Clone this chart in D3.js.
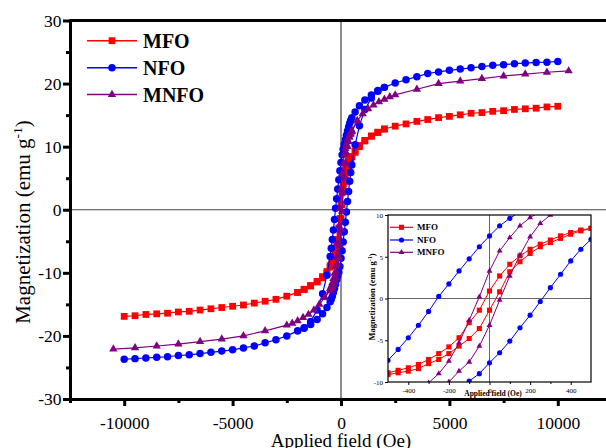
<!DOCTYPE html>
<html>
<head>
<meta charset="utf-8">
<script src="https://cdnjs.cloudflare.com/ajax/libs/d3/7.8.5/d3.min.js"></script>
<style>
  body { margin: 0; background: #fff; }
  svg { display: block; }
</style>
</head>
<body>
<div id="chart"></div>
<script>
// Chart size and fonts
const FRAME_WIDTH = 606;
const FRAME_HEIGHT = 448;
const FONT = "'Liberation Serif', 'Times New Roman', serif";

// ---- data: applied field (Oe) and magnetization (emu/g) ----
// descending branch (from +H down to -H) for MFO and NFO
const fieldDown = [10000, 9500, 9000, 8500, 8000, 7500, 7000, 6500, 6000, 5500, 5000, 4500, 4000, 3500, 3000, 2500,
  2000, 1700, 1400, 1100, 850, 650,
  500, 450, 400, 350, 300, 250, 200, 150, 100, 50, 0, -50, -100, -150, -200, -250, -300, -350, -400, -450, -500,
  -650, -850, -1100, -1400, -1700, -2000,
  -2500, -3000, -3500, -4000, -4500, -5000, -5500, -6000, -6500, -7000, -7500, -8000, -8500, -9000, -9500, -10000];
// ascending branch (only where the loop is open)
const fieldUp = [-2000, -1700, -1400, -1100, -850, -650,
  -500, -450, -400, -350, -300, -250, -200, -150, -100, -50, 0, 50, 100, 150, 200, 250, 300, 350, 400, 450, 500,
  650, 850, 1100, 1400, 1700, 2000];

const mfoDown = [16.4, 16.3, 16.1, 16.0, 15.9, 15.7, 15.6, 15.4, 15.3, 15.05, 14.8, 14.6, 14.3, 14.0, 13.6, 13.25,
  12.8, 12.3, 11.7, 11.0, 10.2, 9.3,
  8.4, 8.2, 7.9, 7.5, 7.0, 6.5, 5.9, 5.1, 4.1, 2.7, 0.9, -1.4, -2.9, -4.7, -5.8, -6.6, -7.3, -7.9, -8.3, -8.6, -8.9,
  -9.8, -10.6, -11.35, -12.0, -12.6, -13.1,
  -13.7, -14.2, -14.5, -14.8, -15.1, -15.3, -15.5, -15.7, -15.9, -16.1, -16.2, -16.4, -16.5, -16.6, -16.8, -16.9];
const mfoUp = [-13.1, -12.65, -12.1, -11.45, -10.8, -10.1,
  -9.1, -8.9, -8.7, -8.4, -7.8, -7.3, -6.6, -5.7, -4.8, -3.6, -1.4, 0.8, 3.2, 4.4, 5.4, 6.2, 6.7, 7.2, 7.7, 8.1, 8.4,
  9.1, 10.0, 10.9, 11.65, 12.25, 12.8];

const nfoDown = [23.5, 23.4, 23.35, 23.25, 23.15, 23.0, 22.9, 22.7, 22.5, 22.3, 22.1, 21.85, 21.6, 21.1, 20.6, 20.1,
  19.4, 18.9, 18.2, 17.4, 16.5, 15.5,
  14.6, 14.2, 13.7, 13.1, 12.5, 11.8, 11.1, 10.4, 9.6, 8.7, 7.5, 6.2, 4.75, 3.3, 1.75, 0.25, -1.55, -3.2, -4.7, -6.1, -7.4,
  -10.4, -13.3, -15.9, -17.7, -18.7, -19.2,
  -20.0, -20.6, -21.1, -21.6, -21.9, -22.2, -22.4, -22.6, -22.8, -23.0, -23.1, -23.3, -23.4, -23.5, -23.6, -23.7];
const nfoUp = [-19.2, -18.8, -18.2, -17.4, -16.5, -15.5,
  -14.6, -14.2, -13.7, -13.1, -12.5, -11.8, -11.1, -10.5, -9.9, -9.0, -7.7, -6.5, -5.1, -3.5, -2.0, -0.36, 1.3, 2.9, 4.5, 5.9, 7.1,
  10.3, 13.3, 15.9, 17.7, 18.8, 19.4];

// MNFO was measured on its own field grid
const mnfoFieldDown = [10500, 9500, 8500, 7500, 6500, 5500, 4500, 3500, 2500,
  2250, 2000, 1750, 1500, 1250, 1000, 750,
  500, 450, 400, 350, 300, 250, 200, 150, 100, 50, 0, -50, -100, -150, -200, -250, -300, -350, -400, -450, -500,
  -750, -1000, -1250, -1500, -1750, -2000, -2250, -2500,
  -3500, -4500, -5500, -6500, -7500, -8500, -9500, -10500];
const mnfoFieldUp = [-750,
  -500, -450, -400, -350, -300, -250, -200, -150, -100, -50, 0, 50, 100, 150, 200, 250, 300, 350, 400, 450, 500,
  750];
const mnfoDown = [22.0, 21.8, 21.5, 21.2, 20.8, 20.4, 20.0, 19.1, 18.2,
  17.9, 17.5, 17.1, 16.6, 16.0, 15.2, 14.1,
  12.6, 12.3, 11.9, 11.5, 11.0, 10.4, 9.7, 8.7, 7.3, 5.7, 3.3, 0.2, -2.6, -5.3, -7.5, -9.0, -10.1, -10.9, -11.6, -12.1, -12.5,
  -13.9, -15.0, -15.9, -16.6, -17.1, -17.6, -18.0, -18.3,
  -19.2, -20.0, -20.5, -20.9, -21.3, -21.6, -21.9, -22.1];
const mnfoUp = [-13.9,
  -12.8, -12.5, -12.2, -11.9, -11.4, -10.8, -10.0, -8.7, -7.6, -5.7, -3.2, -0.2, 2.7, 5.2, 7.4, 9.0, 10.0, 10.8, 11.5, 12.0, 12.4,
  14.1];

// ticks
const xTicks = [-10000, -5000, 0, 5000, 10000];
const xMinor = [-12500, -7500, -2500, 2500, 7500, 12500];
const yTicks = [-30, -20, -10, 0, 10, 20, 30];
const yMinor = [-25, -15, -5, 5, 15, 25];
const insetXTicks = [-400, -200, 0, 200, 400];
const insetXMinor = [-300, -100, 100, 300];
const insetYTicks = [-10, -5, 0, 5, 10];

const SERIES = [
  {name: "MFO", color: "#ff0000", symbol: d3.symbolSquare, big: 46, small: 26,
   branches: [[fieldDown, mfoDown], [fieldUp, mfoUp]]},
  {name: "NFO", color: "#0000ff", symbol: d3.symbolCircle, big: 44, small: 21,
   branches: [[fieldDown, nfoDown], [fieldUp, nfoUp]]},
  {name: "MNFO", color: "#800080", symbol: d3.symbolTriangle, big: 30, small: 15,
   branches: [[mnfoFieldDown, mnfoDown], [mnfoFieldUp, mnfoUp]]}
];

const svg = d3.select("#chart")
  .append("svg")
    .attr("width", FRAME_WIDTH)
    .attr("height", FRAME_HEIGHT);

// main scales
const x = d3.scaleLinear().domain([-12500, 12500]).range([70, 612]);
const y = d3.scaleLinear().domain([-30, 30]).range([399, 20.5]);

// zero lines
svg.append("line")
  .attr("x1", 70).attr("x2", 612).attr("y1", y(0)).attr("y2", y(0))
  .attr("stroke", "#444").attr("stroke-width", 1.2);
svg.append("line")
  .attr("x1", x(0)).attr("x2", x(0)).attr("y1", 20.5).attr("y2", 399)
  .attr("stroke", "#444").attr("stroke-width", 1.2);

// draw one sample: lines then markers
function drawSeries(g, xs, ys, s, size, lw) {
  s.branches.forEach(b => {
    g.append("path")
      .datum(d3.zip(b[0], b[1]))
      .attr("d", d3.line().x(d => xs(d[0])).y(d => ys(d[1])))
      .attr("fill", "none")
      .attr("stroke", s.color)
      .attr("stroke-width", lw);
  });
  s.branches.forEach(b => {
    g.selectAll(null)
      .data(d3.zip(b[0], b[1]))
      .enter()
      .append("path")
        .attr("transform", d => "translate(" + xs(d[0]) + "," + ys(d[1]) + ")")
        .attr("d", d3.symbol(s.symbol, size))
        .attr("fill", s.color);
  });
}

const mainG = svg.append("g");
SERIES.forEach(s => drawSeries(mainG, x, y, s, s.big, 1.2));

// axes
function styleAxis(g, fs) {
  g.select(".domain").attr("stroke-width", 3).attr("stroke-linecap", "square");
  g.selectAll(".tick line").attr("stroke-width", 3);
  g.selectAll(".tick text").attr("font-family", FONT).attr("font-size", fs).attr("fill", "#000");
}

svg.append("g")
  .attr("transform", "translate(0,399)")
  .call(d3.axisBottom(x).tickValues(xMinor).tickSize(4).tickSizeOuter(0).tickFormat(""))
  .call(g => { g.select(".domain").remove(); g.selectAll(".tick line").attr("stroke-width", 3); });
svg.append("g")
  .attr("transform", "translate(0,399)")
  .call(d3.axisBottom(x).tickValues(xTicks).tickSize(7).tickSizeOuter(0).tickPadding(10.5).tickFormat(d => String(d)))
  .call(g => styleAxis(g, 17.5));

svg.append("g")
  .attr("transform", "translate(70,0)")
  .call(d3.axisLeft(y).tickValues(yMinor).tickSize(4).tickSizeOuter(0).tickFormat(""))
  .call(g => { g.select(".domain").remove(); g.selectAll(".tick line").attr("stroke-width", 3); });
svg.append("g")
  .attr("transform", "translate(70,0)")
  .call(d3.axisLeft(y).tickValues(yTicks).tickSize(7).tickSizeOuter(0).tickPadding(1.5).tickFormat(d => String(d)))
  .call(g => styleAxis(g, 17.5));

// top border
svg.append("line")
  .attr("x1", 70).attr("x2", 612).attr("y1", 20.5).attr("y2", 20.5)
  .attr("stroke", "#000").attr("stroke-width", 3);

// axis titles
svg.append("text")
  .attr("x", x(0)).attr("y", 447)
  .attr("text-anchor", "middle")
  .attr("font-family", FONT).attr("font-size", 19)
  .text("Applied field (Oe)");

const yTitle = svg.append("text")
  .attr("transform", "translate(30,222) rotate(-90)")
  .attr("text-anchor", "middle")
  .attr("font-family", FONT).attr("font-size", 21);
yTitle.append("tspan").text("Magnetization (emu g");
yTitle.append("tspan").attr("font-size", 13.5).attr("dy", -8.5).text("-1");
yTitle.append("tspan").attr("dy", 8.5).text(")");

// main legend
const legendY = [40.7, 67.7, 94.5];
SERIES.forEach((s, i) => {
  svg.append("line")
    .attr("x1", 87).attr("x2", 137).attr("y1", legendY[i]).attr("y2", legendY[i])
    .attr("stroke", s.color).attr("stroke-width", 1.4);
  svg.append("path")
    .attr("transform", "translate(112," + legendY[i] + ")")
    .attr("d", d3.symbol(s.symbol, s.big))
    .attr("fill", s.color);
  svg.append("text")
    .attr("x", 143).attr("y", legendY[i]).attr("dy", "0.35em")
    .attr("font-family", FONT).attr("font-size", 20).attr("font-weight", "bold")
    .text(s.name);
});

// ---- inset: same data, zoomed to +-500 Oe ----
const xi = d3.scaleLinear().domain([-500, 500]).range([388, 591]);
const yi = d3.scaleLinear().domain([-10, 10]).range([382, 215]);

svg.append("rect")
  .attr("x", 388).attr("y", 215).attr("width", 203).attr("height", 167)
  .attr("fill", "#fff");

svg.append("defs").append("clipPath").attr("id", "insetClip")
  .append("rect").attr("x", 388).attr("y", 215).attr("width", 203).attr("height", 167);

svg.append("line")
  .attr("x1", 388).attr("x2", 591).attr("y1", yi(0)).attr("y2", yi(0))
  .attr("stroke", "#666").attr("stroke-width", 1);
svg.append("line")
  .attr("x1", xi(0)).attr("x2", xi(0)).attr("y1", 215).attr("y2", 382)
  .attr("stroke", "#666").attr("stroke-width", 1);

const insetG = svg.append("g").attr("clip-path", "url(#insetClip)");
SERIES.forEach(s => drawSeries(insetG, xi, yi, s, s.small, 1));

svg.append("rect")
  .attr("x", 388).attr("y", 215).attr("width", 203).attr("height", 167)
  .attr("fill", "none").attr("stroke", "#000").attr("stroke-width", 1.2);

svg.append("g")
  .attr("transform", "translate(0,382)")
  .call(d3.axisBottom(xi).tickValues(insetXMinor).tickSize(2).tickSizeOuter(0).tickFormat(""))
  .call(g => g.select(".domain").remove());
svg.append("g")
  .attr("transform", "translate(0,382)")
  .call(d3.axisBottom(xi).tickValues(insetXTicks).tickSize(3).tickSizeOuter(0).tickPadding(3.5).tickFormat(d => String(d)))
  .call(g => {
    g.select(".domain").remove();
    g.selectAll(".tick text").attr("font-family", FONT).attr("font-size", 7).attr("fill", "#000");
  });
svg.append("g")
  .attr("transform", "translate(388,0)")
  .call(d3.axisLeft(yi).tickValues(insetYTicks).tickSize(3).tickSizeOuter(0).tickPadding(2).tickFormat(d => String(d)))
  .call(g => {
    g.select(".domain").remove();
    g.selectAll(".tick text").attr("font-family", FONT).attr("font-size", 7).attr("fill", "#000");
  });

svg.append("text")
  .attr("x", 493).attr("y", 396)
  .attr("text-anchor", "middle")
  .attr("font-family", FONT).attr("font-size", 7.5).attr("font-weight", "bold")
  .text("Applied field (Oe)");

const yiTitle = svg.append("text")
  .attr("transform", "translate(375,297) rotate(-90)")
  .attr("text-anchor", "middle")
  .attr("font-family", FONT).attr("font-size", 8.5).attr("font-weight", "bold");
yiTitle.append("tspan").text("Magnetization (emu g");
yiTitle.append("tspan").attr("font-size", 6).attr("dy", -3.5).text("-1");
yiTitle.append("tspan").attr("dy", 3.5).text(")");

// inset legend
const insetLegendY = [227.3, 240, 252.3];
SERIES.forEach((s, i) => {
  svg.append("line")
    .attr("x1", 390).attr("x2", 413).attr("y1", insetLegendY[i]).attr("y2", insetLegendY[i])
    .attr("stroke", s.color).attr("stroke-width", 1.2);
  svg.append("path")
    .attr("transform", "translate(401.5," + insetLegendY[i] + ")")
    .attr("d", d3.symbol(s.symbol, s.small))
    .attr("fill", s.color);
  svg.append("text")
    .attr("x", 417).attr("y", insetLegendY[i]).attr("dy", "0.35em")
    .attr("font-family", FONT).attr("font-size", 9).attr("font-weight", "bold")
    .text(s.name);
});
</script>
</body>
</html>
